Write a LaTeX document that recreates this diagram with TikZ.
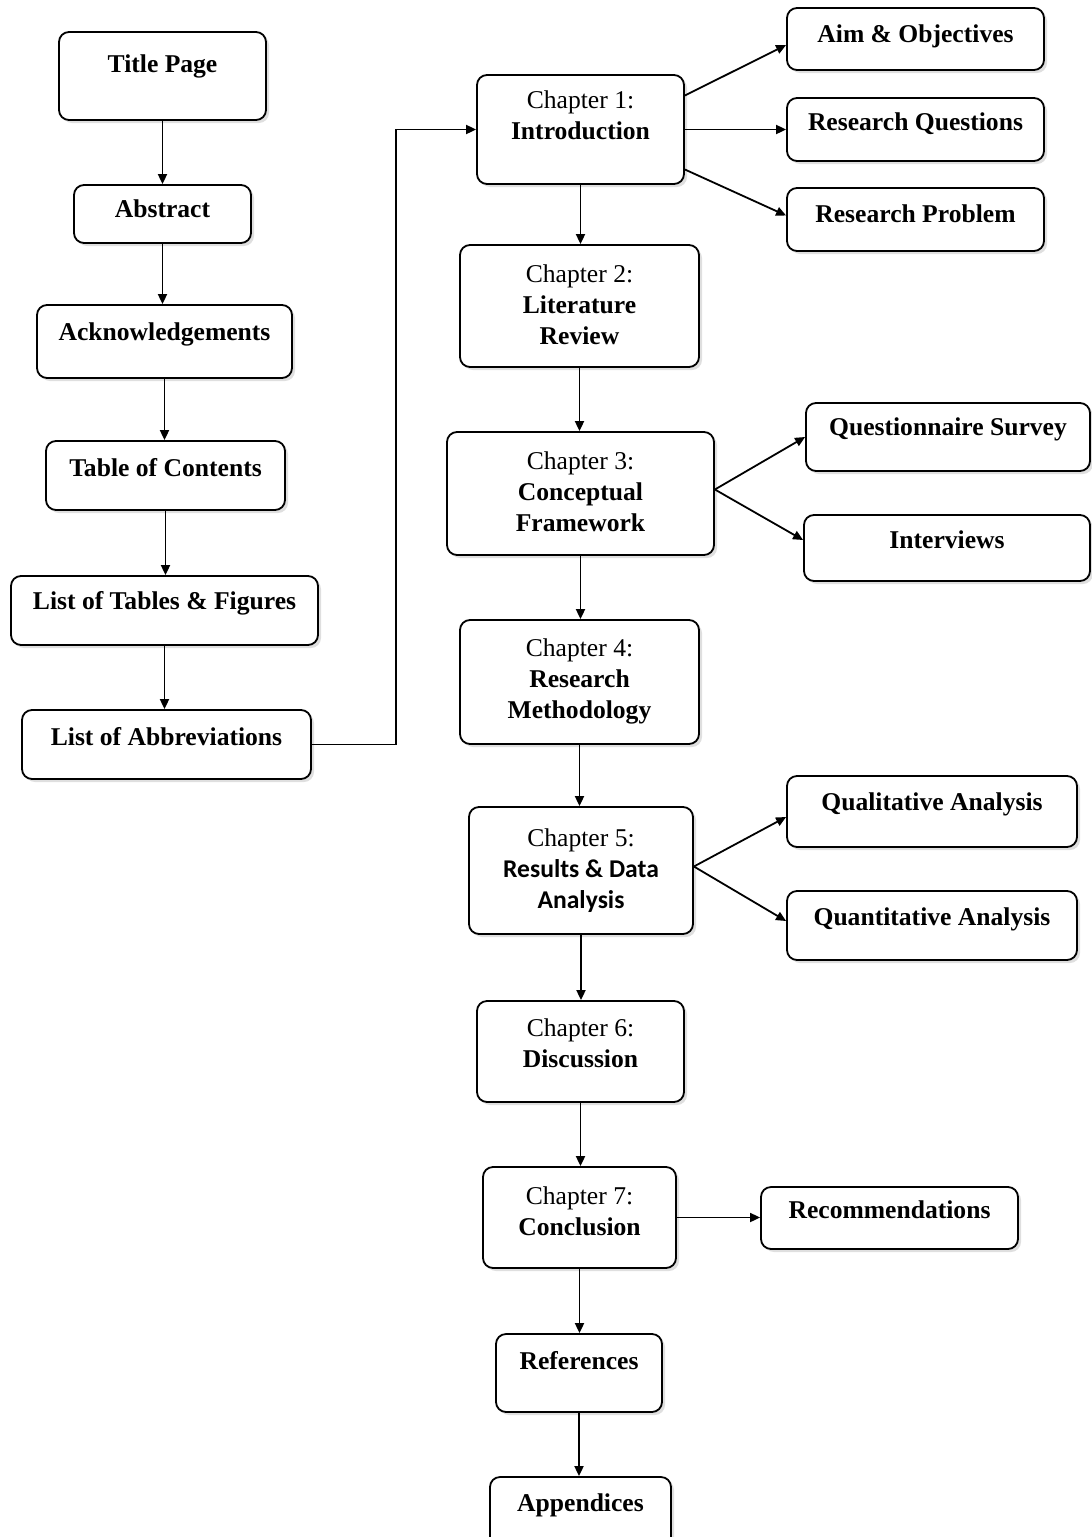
\documentclass[tikz,border=0pt]{standalone}
\usepackage{fontspec}
\setmainfont{Liberation Serif}
\newfontfamily\fontecalibri{Carlito}
\usetikzlibrary{arrows.meta,shadows}

\begin{document}
\begin{tikzpicture}[x=0.5pt,y=-0.5pt]
%============================================================
%  Estilos das caixas e das setas
%  (coordenadas em pixels da figura, y para baixo)
%============================================================
\tikzset{
    % ---  Define setas ------
    >={Triangle[length=5pt,width=4.5pt]},
    seta/.style={ %
            ->,             % com ponta no final
            line width=0.9pt
        },
    % ---  Define caixas ------
    caixa/.style={ %
            rectangle,
            rounded corners=5pt, % cantos arredondados
            draw=black,
            line width=0.9pt,
            fill=white,
            drop shadow={opacity=0.25,shadow xshift=1.5pt,shadow yshift=-1.5pt},
            align=center,
            inner sep=2pt,
            font=\fontsize{12.8}{15.5}\selectfont\bfseries,
            text depth=1.5pt % aumentar para subir o texto
        },
}

\useasboundingbox (0,0) rectangle (1092,1537);

   % coluna da esquerda: elementos iniciais
   \node[caixa,minimum width=103.5pt,minimum height=44pt,text depth=12.4pt] (titulo) at (162.5,76) {Title Page};
   \node[caixa,minimum width=88.5pt,minimum height=29pt,text depth=5.4pt] (resumo) at (162.5,214) {Abstract};
   \node[caixa,minimum width=127.5pt,minimum height=36.5pt,text depth=9.4pt] (agradecimentos) at (164.5,341.5) {Acknowledgements};
   \node[caixa,minimum width=119.5pt,minimum height=34.5pt,text depth=8.4pt] (sumario) at (165.5,475.5) {Table of Contents};
   \node[caixa,minimum width=153.5pt,minimum height=34.5pt,text depth=10.4pt] (tabelas) at (164.5,610.5) {List of Tables \& Figures};
   \node[caixa,minimum width=144.5pt,minimum height=34.5pt,text depth=8.4pt] (abreviaturas) at (166.5,744.5) {List of Abbreviations};

   % coluna do meio: capitulos
   \node[caixa,minimum width=103.5pt,minimum height=54.5pt,text depth=14.4pt] (cap1) at (580.5,129.5) {{\mdseries Chapter 1:}\\Introduction};
   \node[caixa,minimum width=119.5pt,minimum height=61pt] (cap2) at (579.5,306) {{\mdseries Chapter 2:}\\Literature\\Review};
   \node[caixa,minimum width=133.5pt,minimum height=61.5pt] (cap3) at (580.5,493.5) {{\mdseries Chapter 3:}\\Conceptual\\Framework};
   \node[caixa,minimum width=119.5pt,minimum height=62pt,text depth=3pt] (cap4) at (579.5,682) {{\mdseries Chapter 4:}\\Research\\Methodology};
   \node[caixa,minimum width=112pt,minimum height=63.5pt,text depth=2.2pt] (cap5) at (581,870.5) {{\mdseries Chapter 5:}\\{\fontecalibri Results \& Data}\\{\fontecalibri Analysis}};
   \node[caixa,minimum width=103.5pt,minimum height=50.5pt,text depth=8.4pt] (cap6) at (580.5,1051.5) {{\mdseries Chapter 6:}\\Discussion};
   \node[caixa,minimum width=96.5pt,minimum height=50.5pt,text depth=6.4pt] (cap7) at (579.5,1217.5) {{\mdseries Chapter 7:}\\Conclusion};
   \node[caixa,minimum width=83pt,minimum height=39pt,text depth=12.4pt] (referencias) at (579,1373) {References};
   \node[caixa,minimum width=90.5pt,minimum height=35pt,text depth=9.4pt] (apendices) at (580.5,1512) {Appendices};

   % coluna da direita: desdobramentos
   \node[caixa,minimum width=128.5pt,minimum height=31pt,text depth=5.4pt] (objetivos) at (915.5,39) {Aim \& Objectives};
   \node[caixa,minimum width=128.5pt,minimum height=31.5pt,text depth=7.4pt] (questoes) at (915.5,129.5) {Research Questions};
   \node[caixa,minimum width=128.5pt,minimum height=31.5pt,text depth=5.4pt] (problema) at (915.5,219.5) {Research Problem};
   \node[caixa,minimum width=142pt,minimum height=34pt,text depth=10.4pt] (questionario) at (948,437) {Questionnaire Survey};
   \node[caixa,minimum width=143pt,minimum height=33pt,text depth=8.4pt] (entrevistas) at (947,548) {Interviews};
   \node[caixa,minimum width=145pt,minimum height=35.5pt,text depth=9.4pt] (qualitativa) at (932,811.5) {Qualitative Analysis};
   \node[caixa,minimum width=145pt,minimum height=34.5pt,text depth=8.4pt] (quantitativa) at (932,925.5) {Quantitative Analysis};
   \node[caixa,minimum width=128.5pt,minimum height=31pt,text depth=8.4pt] (recomendacoes) at (889.5,1218) {Recommendations};

   % setas da coluna da esquerda (sempre verticais)
   \draw[seta] (titulo.south) -- (titulo.south |- resumo.north);
   \draw[seta] (resumo.south) -- (resumo.south |- agradecimentos.north);
   \draw[seta] (agradecimentos.south) -- (agradecimentos.south |- sumario.north);
   \draw[seta] (sumario.south) -- (sumario.south |- tabelas.north);
   \draw[seta] (tabelas.south) -- (tabelas.south |- abreviaturas.north);
   \draw[seta] (abreviaturas.east) -- ++(84,0) |- (cap1.west);

   % setas entre capitulos
   \draw[seta] (cap1.south) -- (cap1.south |- cap2.north);
   \draw[seta] (cap2.south) -- (cap2.south |- cap3.north);
   \draw[seta] (cap3.south) -- (cap3.south |- cap4.north);
   \draw[seta] (cap4.south) -- (cap4.south |- cap5.north);
   \draw[seta] (cap5.south) -- (cap5.south |- cap6.north);
   \draw[seta] (cap6.south) -- (cap6.south |- cap7.north);
   \draw[seta] (cap7.south) -- (cap7.south |- referencias.north);
   \draw[seta] (referencias.south) -- (referencias.south |- apendices.north);

   % ramificacoes
   \draw[seta] ([yshift=17pt]cap1.east) -- ([yshift=-3pt]objetivos.west);
   \draw[seta] (cap1.east) -- (cap1.east -| questoes.west);
   \draw[seta] ([yshift=-20pt]cap1.east) -- ([yshift=2pt]problema.west);
   \draw[seta] ([yshift=2pt]cap3.east) -- (questionario.west);
   \draw[seta] ([yshift=2pt]cap3.east) -- ([yshift=4pt]entrevistas.west);
   \draw[seta] ([yshift=2pt]cap5.east) -- ([yshift=-2.75pt]qualitativa.west);
   \draw[seta] ([yshift=2pt]cap5.east) -- ([yshift=2.25pt]quantitativa.west);
   \draw[seta] (cap7.east) -- (cap7.east -| recomendacoes.west);
\end{tikzpicture}
\end{document}
